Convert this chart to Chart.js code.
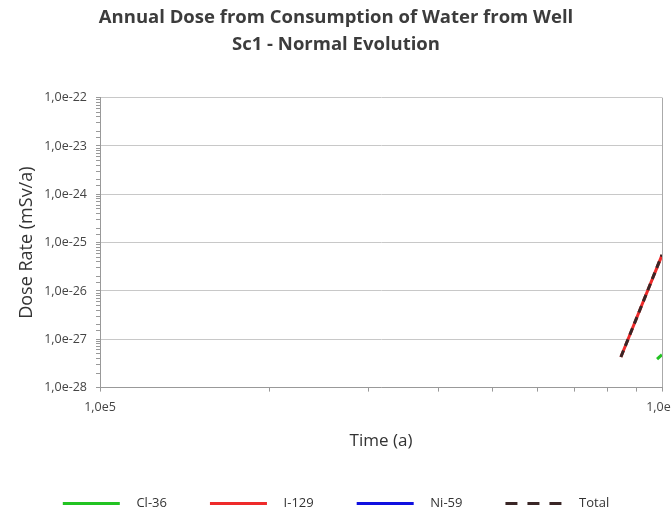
<!DOCTYPE html>
<html>
<head>
<meta charset="utf-8">
<script src="https://cdn.jsdelivr.net/npm/chart.js@4/dist/chart.umd.min.js"></script>
<style>
    body { margin: 0; overflow: hidden; background: #fff; }
    #wrap { width: 680px; height: 508px; }
</style>
</head>
<body>
<div id="wrap"><canvas id="doseChart"></canvas></div>
<script>
// Time (a) and dose rate (mSv/a)
const cl36Time = [9.8e5, 1.0e6];
const cl36Dose = [3.9e-28, 4.8e-28];

const i129Time = [8.45e5, 9.2e5, 1.0e6];
const i129Dose = [4.3e-28, 5.0e-27, 5.5e-26];

// Ni-59 stays below the plotted range
const ni59Time = [8.45e5, 1.0e6];
const ni59Dose = [1e-31, 1e-30];

const totalTime = [8.45e5, 9.2e5, 1.0e6];
const totalDose = [4.3e-28, 5.0e-27, 5.6e-26];

const yMin = 1e-28, yMax = 1e-22;

function toPoints(xs, ys) {
    return xs.map((x, i) => ({ x: x, y: ys[i] }));
}

function isDecade(v) {
    const l = Math.log10(v);
    return Math.abs(l - Math.round(l)) < 1e-6;
}

function isWholeMantissa(v) {
    const m = v / Math.pow(10, Math.floor(Math.log10(v) + 1e-9));
    return Math.abs(m - Math.round(m)) < 1e-6;
}

function decadeLabel(v) {
    return isDecade(v) ? '1,0e' + Math.round(Math.log10(v)) : '';
}

const font = "'Open Sans', sans-serif";

new Chart(document.getElementById('doseChart').getContext('2d'), {
    type: 'line',
    data: {
        datasets: [
            { label: 'Cl-36', data: toPoints(cl36Time, cl36Dose), borderColor: '#22c322', backgroundColor: '#22c322', borderWidth: 3, order: 3 },
            { label: 'I-129', data: toPoints(i129Time, i129Dose), borderColor: '#ee2a2a', backgroundColor: '#ee2a2a', borderWidth: 3, order: 2 },
            { label: 'Ni-59', data: toPoints(ni59Time, ni59Dose), borderColor: '#1010e0', backgroundColor: '#1010e0', borderWidth: 3, order: 1 },
            { label: 'Total', data: toPoints(totalTime, totalDose), borderColor: '#3a2626', backgroundColor: '#3a2626', borderWidth: 3, borderDash: [7, 5], order: 0 }
        ]
    },
    options: {
        responsive: true,
        maintainAspectRatio: false,
        animation: false,
        elements: { point: { radius: 0 }, line: { tension: 0 } },
        layout: { padding: { left: 0, right: 8, top: 2, bottom: -12 } },
        plugins: {
            title: {
                display: true,
                text: ['Annual Dose from Consumption of Water from Well', 'Sc1 - Normal Evolution'],
                color: '#3c3c3c',
                font: { family: font, size: 18.5, weight: 'bold', lineHeight: 1.45 },
                padding: { top: 2, bottom: 40 }
            },
            legend: {
                position: 'bottom',
                labels: {
                    usePointStyle: true,
                    pointStyle: 'line',
                    pointStyleWidth: 57,
                    padding: 43,
                    color: '#333',
                    font: { family: font, size: 13 },
                    generateLabels: chart => {
                        const items = Chart.defaults.plugins.legend.labels.generateLabels(chart);
                        items.forEach(item => {
                            const ds = chart.data.datasets[item.datasetIndex];
                            item.text = '   ' + item.text;
                            item.lineDash = ds.borderDash ? [12, 10] : [];
                        });
                        return items.sort((a, b) => a.datasetIndex - b.datasetIndex);
                    }
                }
            },
            tooltip: { enabled: false }
        },
        scales: {
            x: {
                type: 'logarithmic',
                min: 1e5,
                max: 1e6,
                afterBuildTicks: s => { s.ticks = s.ticks.filter(t => isWholeMantissa(t.value)); },
                afterFit: s => { s.paddingRight = 18; },
                title: { display: true, text: 'Time (a)', color: '#333', font: { family: font, size: 17 }, padding: { top: 8, bottom: 3 } },
                border: { color: '#999' },
                grid: {
                    color: ctx => isDecade(ctx.tick.value) ? '#aaa' : 'rgba(0,0,0,0)',
                    tickColor: '#999',
                    tickLength: 4
                },
                ticks: {
                    autoSkip: false,
                    maxRotation: 0,
                    color: '#444',
                    padding: 8,
                    font: { family: font, size: 12.5 },
                    callback: v => decadeLabel(v)
                }
            },
            y: {
                type: 'logarithmic',
                min: yMin,
                max: yMax,
                afterFit: s => { s.width = 100; },
                title: { display: true, text: 'Dose Rate (mSv/a)', color: '#333', font: { family: font, size: 18 }, padding: { top: 16, bottom: 8 } },
                border: { color: '#999' },
                grid: {
                    color: ctx => isDecade(ctx.tick.value) ? '#c8c8c8' : 'rgba(0,0,0,0)',
                    tickColor: '#999',
                    tickLength: 4
                },
                ticks: {
                    autoSkip: false,
                    color: '#444',
                    font: { family: font, size: 12.5 },
                    padding: 9,
                    callback: v => decadeLabel(v)
                }
            }
        }
    }
});
</script>
</body>
</html>
